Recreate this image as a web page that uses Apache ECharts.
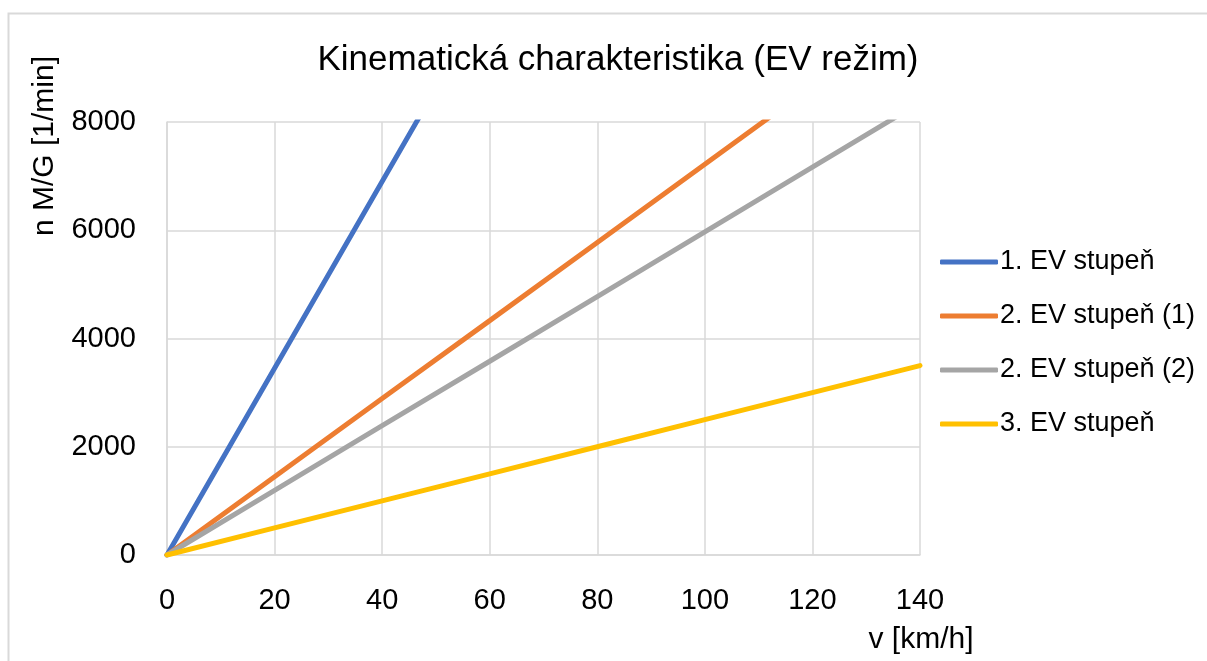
<!DOCTYPE html>
<html>
<head>
<meta charset="utf-8">
<script src="https://cdn.jsdelivr.net/npm/echarts@6/dist/echarts.min.js"></script>
<style>
  html, body { margin: 0; padding: 0; background: #fff; }
  #chart { width: 1207px; height: 661px; }
</style>
</head>
<body>
<div id="chart"></div>
<script>
// Vehicle speed samples [km/h]
const speeds = [0, 20, 40, 60, 80, 100, 120, 140];

// Motor/generator speed [1/min] for each EV gear
const gear1 = [0, 3450, 6900, 10350, 13800, 17250, 20700, 24150];
const gear2a = [0, 1445, 2890, 4330, 5775, 7220, 8665, 10110];
const gear2b = [0, 1195, 2390, 3580, 4775, 5970, 7165, 8360];
const gear3 = [0, 500, 1000, 1500, 2000, 2500, 3000, 3500];

const seriesNames = ['1. EV stupeň', '2. EV stupeň (1)', '2. EV stupeň (2)', '3. EV stupeň'];
const seriesColors = ['#4472C4', '#ED7D31', '#A5A5A5', '#FFC000'];
const seriesValues = [gear1, gear2a, gear2b, gear3];

const xTicks = [0, 20, 40, 60, 80, 100, 120, 140];
const yTicks = [0, 2000, 4000, 6000, 8000];

const FONT = '"Liberation Sans", "DejaVu Sans", sans-serif';

const chart = echarts.init(document.getElementById('chart'), null, { renderer: 'canvas' });

const series = seriesValues.map((vals, i) => ({
  name: seriesNames[i],
  type: 'line',
  data: speeds.map((v, j) => [v, vals[j]]),
  symbol: 'none',
  clip: true,
  color: seriesColors[i],
  lineStyle: { color: seriesColors[i], width: 5, cap: 'round' },
  itemStyle: { color: seriesColors[i] },
  emphasis: { disabled: true },
  animation: false
}));

chart.setOption({
  animation: false,
  backgroundColor: '#ffffff',
  title: {
    text: 'Kinematická charakteristika (EV režim)',
    left: 613,
    top: 38,
    textAlign: 'center',
    textStyle: { fontFamily: FONT, fontSize: 35, fontWeight: 'normal', color: '#000' }
  },
  grid: { left: 167, right: 287, top: 122, bottom: 106, containLabel: false },
  xAxis: {
    type: 'value',
    min: xTicks[0],
    max: xTicks[xTicks.length - 1],
    interval: 20,
    axisLine: { show: true, lineStyle: { color: '#d9d9d9', width: 1.5 } },
    axisTick: { show: false },
    splitLine: { show: true, lineStyle: { color: '#d9d9d9', width: 1.5 } },
    axisLabel: { margin: 31, fontFamily: FONT, fontSize: 29, color: '#000', formatter: v => String(v) }
  },
  yAxis: {
    type: 'value',
    min: yTicks[0],
    max: yTicks[yTicks.length - 1],
    interval: 2000,
    axisLine: { show: true, lineStyle: { color: '#d9d9d9', width: 1.5 } },
    axisTick: { show: false },
    splitLine: { show: true, lineStyle: { color: '#d9d9d9', width: 1.5 } },
    axisLabel: { margin: 31, fontFamily: FONT, fontSize: 29, color: '#000', formatter: v => String(v) }
  },
  legend: {
    orient: 'vertical',
    left: 935,
    top: 243,
    icon: 'roundRect',
    itemWidth: 58,
    itemHeight: 5,
    itemGap: 26,
    data: seriesNames,
    textStyle: { fontFamily: FONT, fontSize: 27, color: '#000', lineHeight: 28, padding: [0, 0, 0, -3] },
    selectedMode: false
  },
  graphic: [
    {
      type: 'rect',
      shape: { x: 8.5, y: 13.5, width: 1300, height: 700 },
      style: { fill: 'none', stroke: '#d9d9d9', lineWidth: 2 },
      silent: true,
      z: -10
    },
    {
      type: 'text',
      x: 45,
      y: 146,
      rotation: Math.PI / 2,
      style: {
        text: 'n M/G [1/min]',
        fontFamily: FONT,
        fontSize: 30,
        fill: '#000',
        align: 'center',
        verticalAlign: 'middle'
      }
    },
    {
      type: 'text',
      x: 921,
      y: 640,
      style: {
        text: 'v [km/h]',
        fontFamily: FONT,
        fontSize: 30,
        fill: '#000',
        align: 'center',
        verticalAlign: 'middle'
      }
    }
  ],
  series: series
});
</script>
</body>
</html>
